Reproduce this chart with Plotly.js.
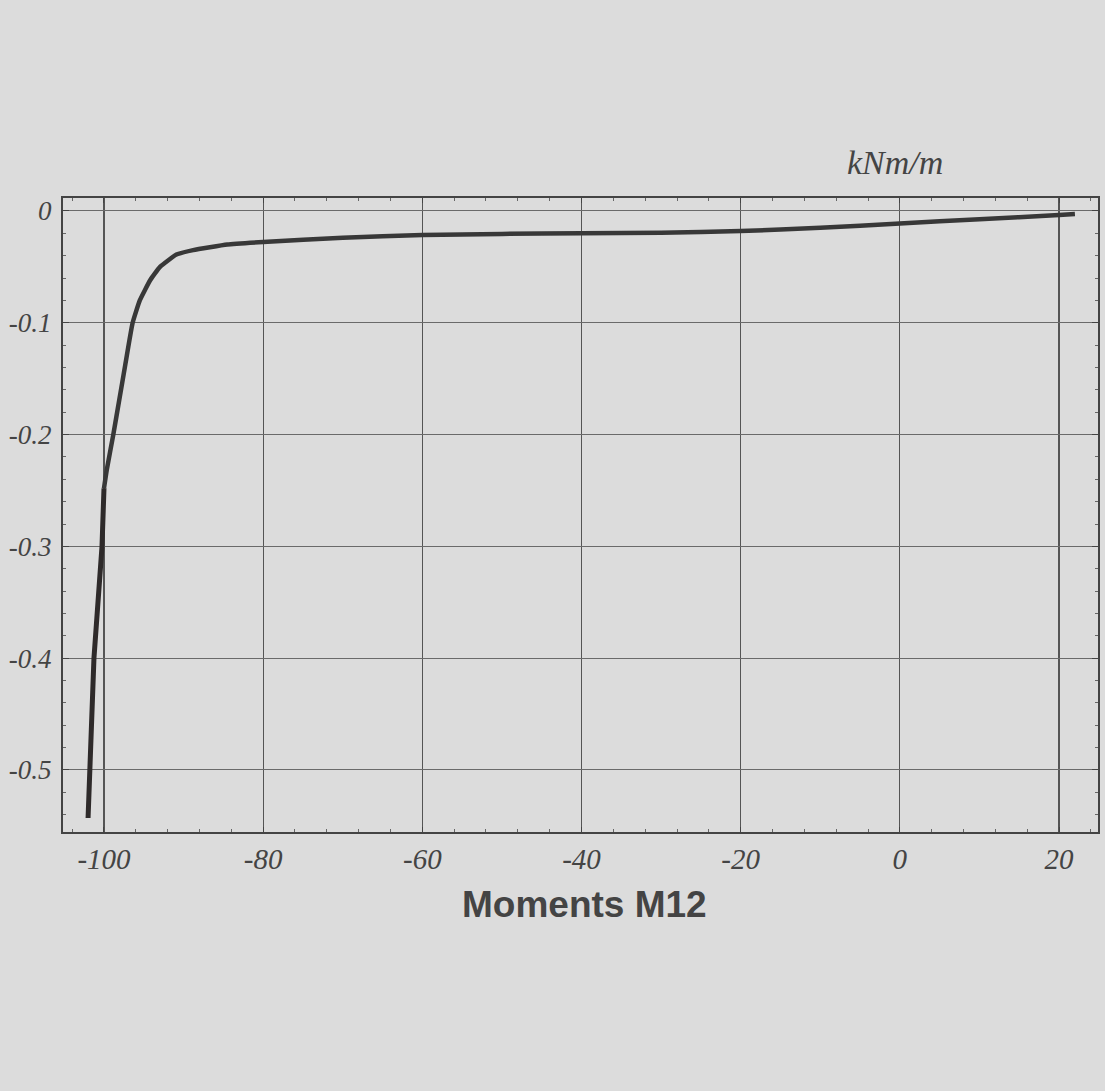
<!DOCTYPE html>
<html>
<head>
<meta charset="utf-8">
<script src="https://cdn.plot.ly/plotly-3.0.1.min.js"></script>
<style>
  html, body { margin: 0; padding: 0; background: #dcdcdc; }
  #chart { width: 1105px; height: 1091px; }
</style>
</head>
<body>
<div id="chart"></div>
<script>
// Upper (curved) part of the M12 moment distribution
const xUpper = [-100.0, -99.66, -98.83, -98.08, -97.36, -96.4, -95.5, -94.2, -92.96, -90.9, -88.8, -84.5, -80, -70, -60, -50, -40, -30, -20, -10, 0, 10, 20, 22];
const yUpper = [-0.248, -0.232, -0.200, -0.169, -0.139, -0.100, -0.080, -0.062, -0.050, -0.039, -0.035, -0.030, -0.0278, -0.024, -0.0215, -0.0205, -0.0200, -0.0194, -0.0180, -0.0150, -0.0112, -0.0074, -0.0036, -0.0027];
// Lower (steep) part near the edge
const xLower = [-102.0, -101.76, -101.26, -100.25, -100.0];
const yLower = [-0.543, -0.500, -0.400, -0.300, -0.248];

const xTicks = [-100, -80, -60, -40, -20, 0, 20];
const xTickText = ["-100", "-80", "-60", "-40", "-20", "0", "20"];
const yTicks = [0, -0.1, -0.2, -0.3, -0.4, -0.5];
const yTickText = ["0", "-0.1", "-0.2", "-0.3", "-0.4", "-0.5"];

const unitLabel = "kNm/m";
const chartTitle = "Moments M12";

const xTickFont = { family: "Liberation Serif, serif", size: 29, color: "#444", style: "italic" };
const yTickFont = { family: "Liberation Serif, serif", size: 27, color: "#444", style: "italic" };

const traces = [
  { x: xUpper, y: yUpper, mode: "lines", line: { color: "#383838", width: 4.5, shape: "spline", smoothing: 0.4 }, hoverinfo: "skip" },
  { x: xLower, y: yLower, mode: "lines", line: { color: "#2e2a2a", width: 5 }, hoverinfo: "skip" }
];

const layout = {
  width: 1105, height: 1091,
  paper_bgcolor: "#dcdcdc", plot_bgcolor: "#dcdcdc",
  margin: { l: 63, r: 7, t: 198, b: 259 },
  showlegend: false,
  xaxis: {
    range: [-105.15, 24.9], tickvals: xTicks, ticktext: xTickText,
    tickfont: xTickFont, showgrid: true, gridcolor: "#555", gridwidth: 1.2,
    zeroline: false, showline: true, linecolor: "#444", linewidth: 2, mirror: "ticks",
    ticks: "inside", ticklen: 5, tickcolor: "#444",
    minor: { dtick: 4, tick0: 0, ticks: "inside", ticklen: 3, tickcolor: "#666", showgrid: false },
    ticklabelstandoff: 0
  },
  yaxis: {
    range: [-0.5555, 0.0116], tickvals: yTicks, ticktext: yTickText,
    tickfont: yTickFont, showgrid: true, gridcolor: "#6a6a6a", gridwidth: 1,
    zeroline: false, showline: true, linecolor: "#444", linewidth: 2, mirror: "ticks",
    ticks: "inside", ticklen: 6, tickcolor: "#444",
    minor: { dtick: 0.02, tick0: 0, ticks: "inside", ticklen: 3, tickcolor: "#666", showgrid: false },
    ticklabelstandoff: 4
  },
  annotations: [
    { text: unitLabel, xref: "paper", yref: "paper", x: 0.804, y: 1.0565, xanchor: "center", yanchor: "middle",
      showarrow: false, font: { family: "Liberation Serif, serif", size: 34, color: "#444", style: "italic" } },
    { text: "<b>" + chartTitle + "</b>", xref: "paper", yref: "paper", x: 0.504, y: -0.115, xanchor: "center", yanchor: "middle",
      showarrow: false, font: { family: "Liberation Sans, Arial, sans-serif", size: 37, color: "#444" } }
  ]
};

Plotly.newPlot("chart", traces, layout, { displayModeBar: false, staticPlot: true });
</script>
</body>
</html>
